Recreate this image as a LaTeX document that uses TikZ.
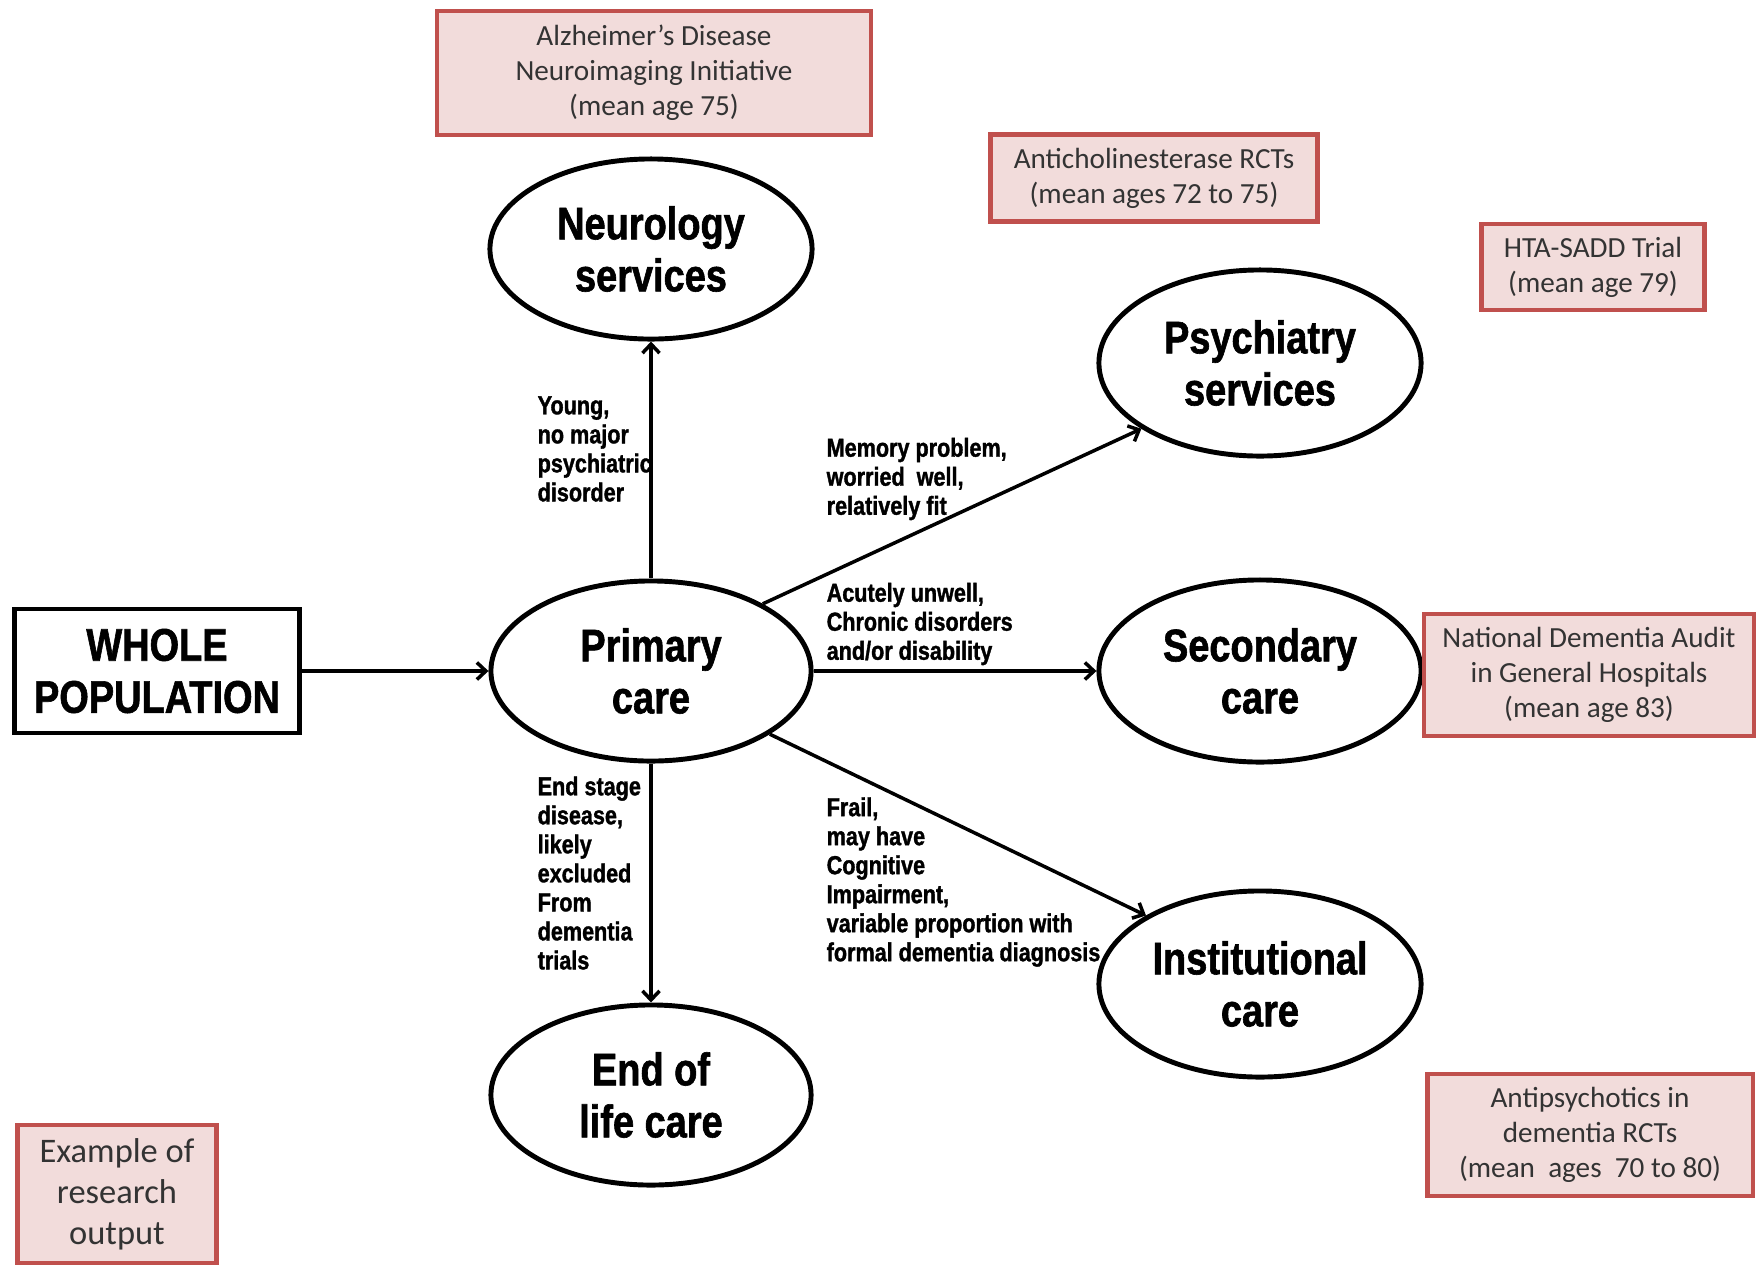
\documentclass[tikz,border=0pt]{standalone}
\usepackage{fontspec}
\setmainfont{Carlito}
\newfontfamily\heavy{Liberation Sans}[FakeStretch=0.83, BoldFeatures={FakeBold=1.3}]
\usetikzlibrary{shapes.geometric,arrows.meta}
\definecolor{boxred}{HTML}{C0504D}
\definecolor{boxfill}{HTML}{F2DCDB}
\definecolor{boxtext}{HTML}{333333}

\begin{document}
\begin{tikzpicture}[x=0.01cm,y=-0.01cm,
  service/.style={ellipse, draw, line width=1.4pt, inner sep=0pt,
    minimum width=3.22cm, minimum height=1.8cm, align=center,
    font=\heavy\bfseries\fontsize{13}{14.8}\selectfont},
  research/.style={rectangle, draw=boxred, fill=boxfill, line width=1.2pt,
    inner sep=0pt, align=center, text=boxtext,
    font=\fontsize{8.3}{10}\selectfont},
  pathlabel/.style={inner sep=0pt, align=left, anchor=west,
    font=\heavy\bfseries\fontsize{7.4}{8.25}\selectfont},
  conn/.style={line width=1pt, -{Straight Barb[length=0.9mm,width=1.7mm]}}
]
\useasboundingbox (0,0) rectangle (1757,1266);

% care settings
\node[service] (neuro) at (651,249) {Neurology\\services};
\node[service, minimum height=1.86cm] (psych) at (1260,363) {Psychiatry\\services};
\node[service, minimum width=3.2cm] (primary) at (651,671) {Primary\\care};
\node[service, minimum height=1.82cm] (secondary) at (1260,671) {Secondary\\care};
\node[service, minimum height=1.86cm] (inst) at (1260,984) {Institutional\\care};
\node[service, minimum width=3.2cm] (eol) at (651,1095) {End of\\life care};

% population
\node[rectangle, draw, line width=1.2pt, inner sep=0pt,
  minimum width=2.85cm, minimum height=1.24cm, align=center,
  font=\heavy\bfseries\fontsize{13}{14.8}\selectfont] (whole) at (157,671) {WHOLE\\POPULATION};

% research outputs
\node[research, minimum width=4.33cm, minimum height=1.24cm] (adni) at (654,73)
  {Alzheimer’s Disease\\Neuroimaging Initiative\\(mean age 75)};
\node[research, minimum width=3.27cm, minimum height=0.87cm] (ache) at (1154,178)
  {Anticholinesterase RCTs\\(mean ages 72 to 75)};
\node[research, minimum width=2.23cm, minimum height=0.86cm] (hta) at (1593,267)
  {HTA-SADD Trial\\(mean age 79)};
\node[research, minimum width=3.3cm, minimum height=1.22cm] (nda) at (1589,675)
  {National Dementia Audit\\in General Hospitals\\(mean age 83)};
\node[research, minimum width=3.25cm, minimum height=1.22cm] (anti) at (1590,1135)
  {Antipsychotics in\\dementia RCTs\\(mean\ \ ages\ \ 70 to 80)};
\node[research, minimum width=1.99cm, minimum height=1.38cm,
  font=\fontsize{9.8}{11.7}\selectfont] (example) at (117,1194)
  {Example of\\research\\output};

% pathways
\draw[conn] (whole) -- (primary);
\draw[conn] (primary) -- (neuro);
\draw[conn] (primary.31) -- (psych.209);
\draw[conn] (primary) -- (secondary);
\draw[conn] (primary.332) -- (inst.149);
\draw[conn] (primary) -- (eol);

% pathway descriptions
\node[pathlabel] (lyoung) at (537,449) {Young,\\no major\\psychiatric\\disorder};
\node[pathlabel] (lmemory) at (826,479) {Memory problem,\\worried\ \ well,\\relatively fit};
\node[pathlabel] (lacute) at (826,624) {Acutely unwell,\\Chronic disorders\\and/or disability};
\node[pathlabel] (lend) at (537,873) {End stage\\disease,\\likely\\excluded\\From\\dementia\\trials};
\node[pathlabel] (lfrail) at (826,882) {Frail,\\may have\\Cognitive\\Impairment,\\variable proportion with\\formal dementia diagnosis};
\end{tikzpicture}
\end{document}
